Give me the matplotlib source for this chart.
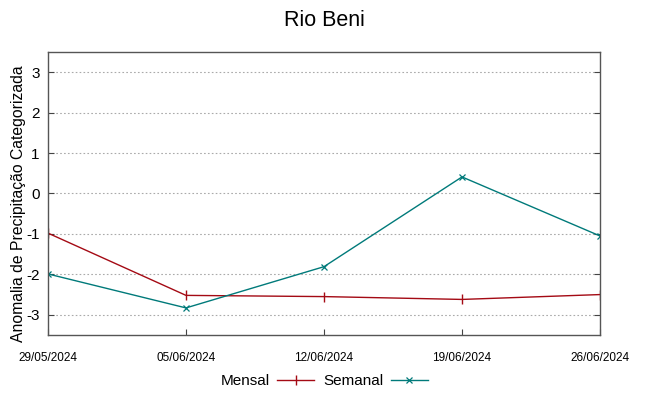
import matplotlib
matplotlib.use('Agg')
import matplotlib.pyplot as plt
import matplotlib.dates as mdates
import pandas as pd

plt.rcParams['font.family'] = ['Liberation Sans', 'DejaVu Sans']
plt.rcParams['axes.unicode_minus'] = False

dates = pd.to_datetime(['2024-05-29', '2024-06-05', '2024-06-12', '2024-06-19', '2024-06-26'])
mensal = [-0.98, -2.52, -2.55, -2.62, -2.5]
semanal = [-1.99, -2.83, -1.81, 0.41, -1.05]
yticks = [-3, -2, -1, 0, 1, 2, 3]

fig = plt.figure(figsize=(6.48, 3.96), dpi=100)
ax = fig.add_axes([48 / 648, 1 - 335 / 396, 552 / 648, 283 / 396])

ax.plot(dates, mensal, color='#a40a14', lw=1, marker='|', ms=7, mew=1, label='Mensal')
ax.plot(dates, semanal, color='#007a7a', lw=1, marker='x', ms=5, mew=0.9, label='Semanal')

ax.set_xlim(dates[0], dates[-1])
ax.set_ylim(-3.5, 3.5)
ax.set_yticks(yticks)
ax.set_xticks(dates)
ax.xaxis.set_major_formatter(mdates.DateFormatter('%d/%m/%Y'))
ax.tick_params(axis='x', labelsize=8.5, direction='in', length=4, color='#444444', pad=12)
ax.tick_params(axis='y', labelsize=11, direction='in', length=4, right=True, color='#444444', pad=6)
ax.grid(axis='y', linestyle=(0, (1.5, 2)), color='#aaaaaa', lw=0.8)
for s in ax.spines.values():
    s.set_color('#555555')
    s.set_linewidth(1)

ax.set_ylabel('Anomalia de Precipitação Categorizada', fontsize=11.3)
ax.yaxis.set_label_coords(-0.04, 0.465)
fig.suptitle('Rio Beni', fontsize=15.5, y=0.975)

fig.legend(loc='center', bbox_to_anchor=(0.5, 1 - 381 / 396), ncol=2, frameon=False,
           markerfirst=False, fontsize=11, handlelength=2.4, columnspacing=0.6, handletextpad=0.5)

fig.savefig('out.png', dpi=100)
